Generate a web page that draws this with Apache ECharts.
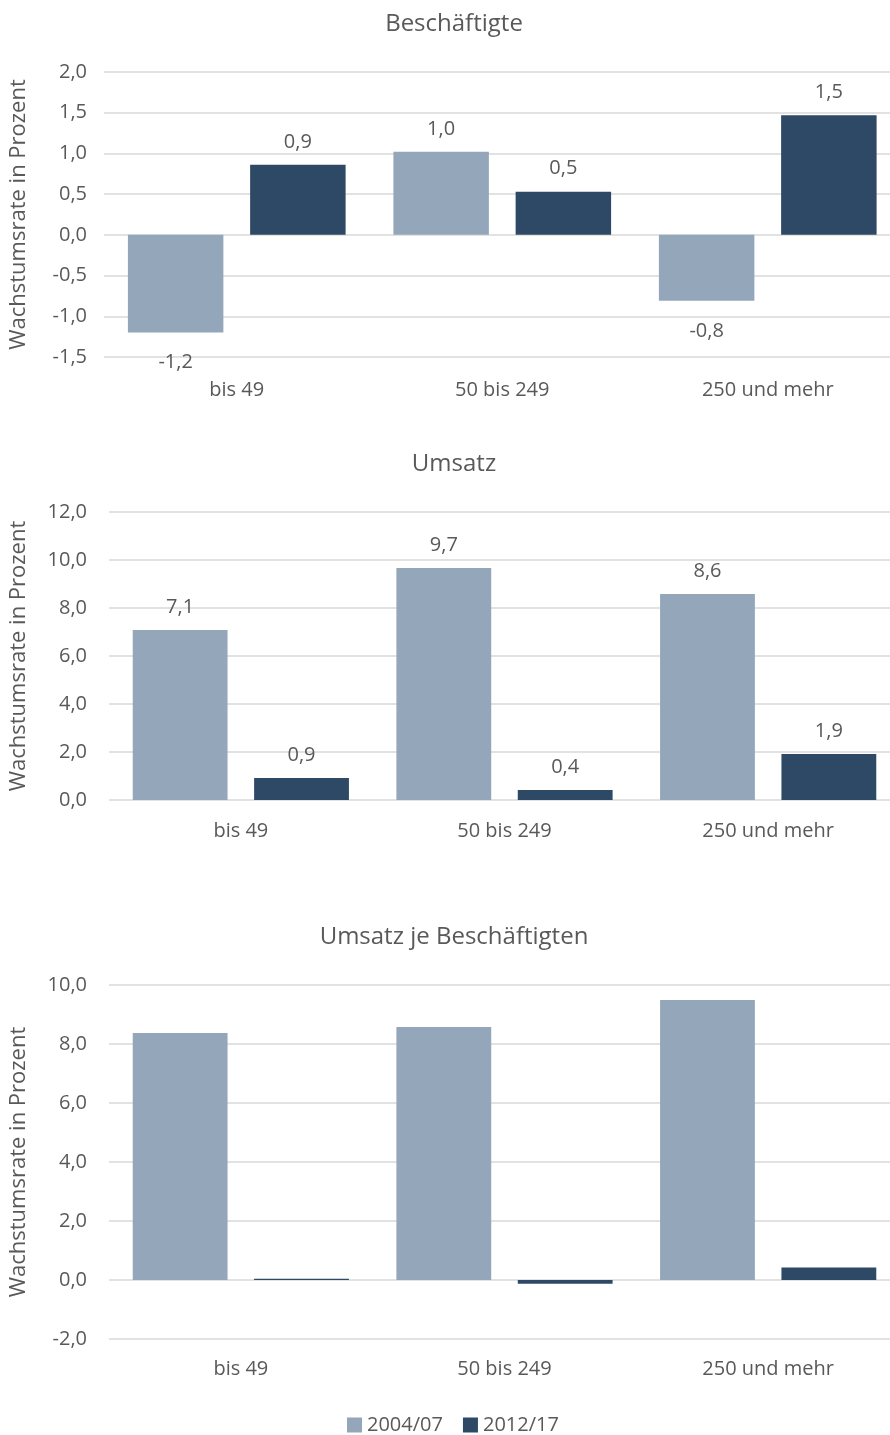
<!DOCTYPE html>
<html>
<head>
<meta charset="utf-8">
<script src="https://cdn.jsdelivr.net/npm/echarts@6/dist/echarts.min.js"></script>
<style>
  html, body { margin: 0; padding: 0; background: #fff; overflow: hidden; }
  #chart { width: 910px; height: 1435px; }
</style>
</head>
<body>
<div id="chart"></div>
<script>
// Größenklassen der Unternehmen (Beschäftigte)
const categories = ['bis 49', '50 bis 249', '250 und mehr'];
const periods = ['2004/07', '2012/17'];
const panelTitles = ['Beschäftigte', 'Umsatz', 'Umsatz je Beschäftigten'];
const axisTitle = 'Wachstumsrate in Prozent';

// Wachstumsraten in Prozent
const beschaeftigte0407 = [-1.2, 1.02, -0.81];
const beschaeftigte1217 = [0.86, 0.53, 1.47];
const umsatz0407 = [7.08, 9.67, 8.58];
const umsatz1217 = [0.92, 0.42, 1.92];
const umsatzJeB0407 = [8.37, 8.58, 9.49];
const umsatzJeB1217 = [0.04, -0.13, 0.42];

// Achsenbereiche je Teilgrafik
const yMin = [-1.5, 0, -2];
const yMax = [2, 12, 10];
const yStep = [0.5, 2, 2];

const FONT = '"Open Sans", sans-serif';
const TEXT = '#595959';
const GRID = '#D9D9D9';
const COLORS = ['#94A7BA', '#2E4965'];

const fmt = v => v.toFixed(1).replace('.', ',');

// Zeichenflächen; die rechte Kante läuft etwas über den sichtbaren Rand hinaus
const grids = [
  { left: 103.5, top: 72, width: 797, height: 285 },
  { left: 108, top: 512, width: 792, height: 288 },
  { left: 108, top: 985, width: 792, height: 354 }
];
const titleTops = [7, 447, 920];
const xLabelMargins = [23, 21, 20];

const panels = [
  [beschaeftigte0407, beschaeftigte1217, true],
  [umsatz0407, umsatz1217, true],
  [umsatzJeB0407, umsatzJeB1217, false]
];

const series = [];
panels.forEach((p, gi) => {
  [p[0], p[1]].forEach((values, si) => {
    series.push({
      name: periods[si],
      type: 'bar',
      xAxisIndex: gi,
      yAxisIndex: gi,
      barGap: '28%',
      barCategoryGap: '18%',
      itemStyle: { color: COLORS[si] },
      data: values.map(v => ({
        value: v,
        label: {
          show: p[2],
          position: v >= 0 ? 'top' : 'bottom',
          distance: v >= 0 ? 13 : 20,
          formatter: d => fmt(d.value),
          fontFamily: FONT,
          fontSize: 20,
          color: TEXT
        }
      }))
    });
  });
});

const chart = echarts.init(document.getElementById('chart'));
chart.setOption({
  animation: false,
  backgroundColor: '#ffffff',
  title: panelTitles.map((t, i) => ({
    text: t,
    left: 449,
    textAlign: 'center',
    top: titleTops[i],
    textStyle: { fontFamily: FONT, fontSize: 24, fontWeight: 'normal', color: TEXT }
  })),
  legend: {
    data: periods,
    top: 1410,
    left: 342,
    icon: 'rect',
    itemWidth: 15,
    itemHeight: 15,
    itemGap: 20,
    textStyle: { fontFamily: FONT, fontSize: 20, color: TEXT }
  },
  grid: grids,
  xAxis: grids.map((g, i) => ({
    type: 'category',
    gridIndex: i,
    data: categories,
    axisLine: { show: false, onZero: false },
    axisTick: { show: false },
    axisLabel: { fontFamily: FONT, fontSize: 20, color: TEXT, margin: xLabelMargins[i] }
  })),
  yAxis: grids.map((g, i) => ({
    type: 'value',
    gridIndex: i,
    min: yMin[i],
    max: yMax[i],
    interval: yStep[i],
    name: axisTitle,
    nameLocation: 'middle',
    nameGap: i === 0 ? 74 : 79,
    nameTextStyle: { fontFamily: FONT, fontSize: 22, color: TEXT },
    axisLine: { show: false },
    axisTick: { show: false },
    splitLine: { lineStyle: { color: GRID, width: 1.5 } },
    axisLabel: {
      fontFamily: FONT, fontSize: 20, color: TEXT,
      margin: i === 0 ? 17 : 22,
      formatter: v => fmt(v)
    }
  })),
  series: series
});
</script>
</body>
</html>
